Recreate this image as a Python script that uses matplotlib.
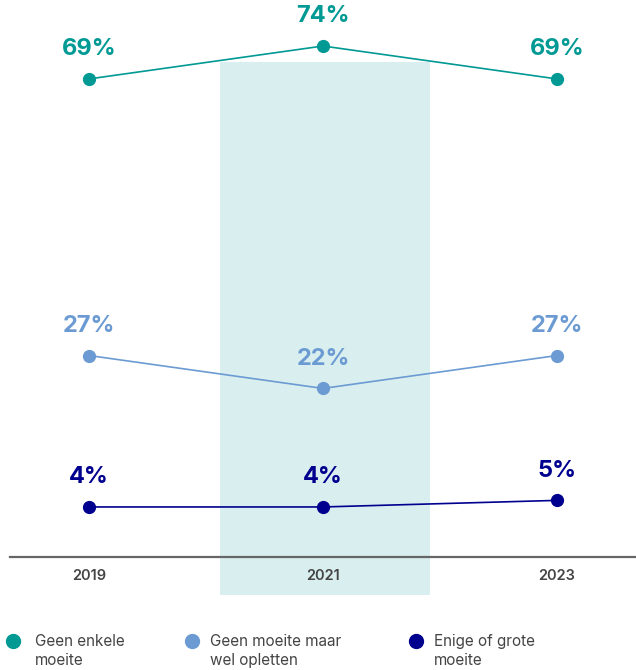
import matplotlib.pyplot as plt
import numpy as np

plt.rcParams['font.family'] = ['Inter', 'DejaVu Sans']

years = ['2019', '2021', '2023']
series_names = ['Geen enkele\nmoeite', 'Geen moeite maar\nwel opletten', 'Enige of grote\nmoeite']
geen_enkele = [69, 74, 69]
geen_maar_opletten = [27, 22, 27]
enige_of_grote = [4, 4, 5]
colors = ['#009994', '#6b9bd2', '#00008f']

W, H = 636, 670
fig = plt.figure(figsize=(W / 100, H / 100), dpi=100)
ax = fig.add_axes([0, 0, 1, 1])

# pixel -> data mapping: x step 234px, y 6.585 px per percent, zero at 533px
px_x = 234.0
px_y = 6.585
x0_px, y0_px = 89.0, 533.3
ax.set_xlim(-x0_px / px_x, (W - x0_px) / px_x)
ax.set_ylim((y0_px - H) / px_y, y0_px / px_y)
ax.axis('off')


def xd(px):
    return (px - x0_px) / px_x


def yd(px):
    return (y0_px - px) / px_y


x = np.arange(len(years))

# highlighted 2021 band
ax.axvspan(xd(220), xd(430), ymin=(H - 595) / H, ymax=(H - 62) / H,
           color='#d9eeef', zorder=0, lw=0)

# baseline
ax.plot([xd(10), xd(W)], [yd(557), yd(557)], color='#666666', lw=1.6, zorder=1)
for xi, yr in zip(x, years):
    ax.text(xi, yd(576), yr, ha='center', va='center', fontsize=10.5,
            color='#444444', fontweight='semibold')

for vals, c in zip([geen_enkele, geen_maar_opletten, enige_of_grote], colors):
    ax.plot(x, vals, color=c, lw=1.2, marker='o', markersize=8.5, zorder=3)
    for xi, v in zip(x, vals):
        ax.annotate(f'{v}%', (xi, v), xytext=(0, 21.5), textcoords='offset points',
                    ha='center', va='center', fontsize=17, fontweight='bold', color=c)

# legend
leg_marker_px = [13, 192, 416]
leg_text_px = [35, 210, 434]
for mx, tx, name, c in zip(leg_marker_px, leg_text_px, series_names, colors):
    ax.plot([xd(mx)], [yd(641)], marker='o', markersize=10, color=c, clip_on=False)
    fig.text(tx / W, 1 - 634 / H, name, ha='left', va='top', fontsize=11,
             color='#444444', linespacing=1.3)

fig.savefig('out.png', dpi=100)
